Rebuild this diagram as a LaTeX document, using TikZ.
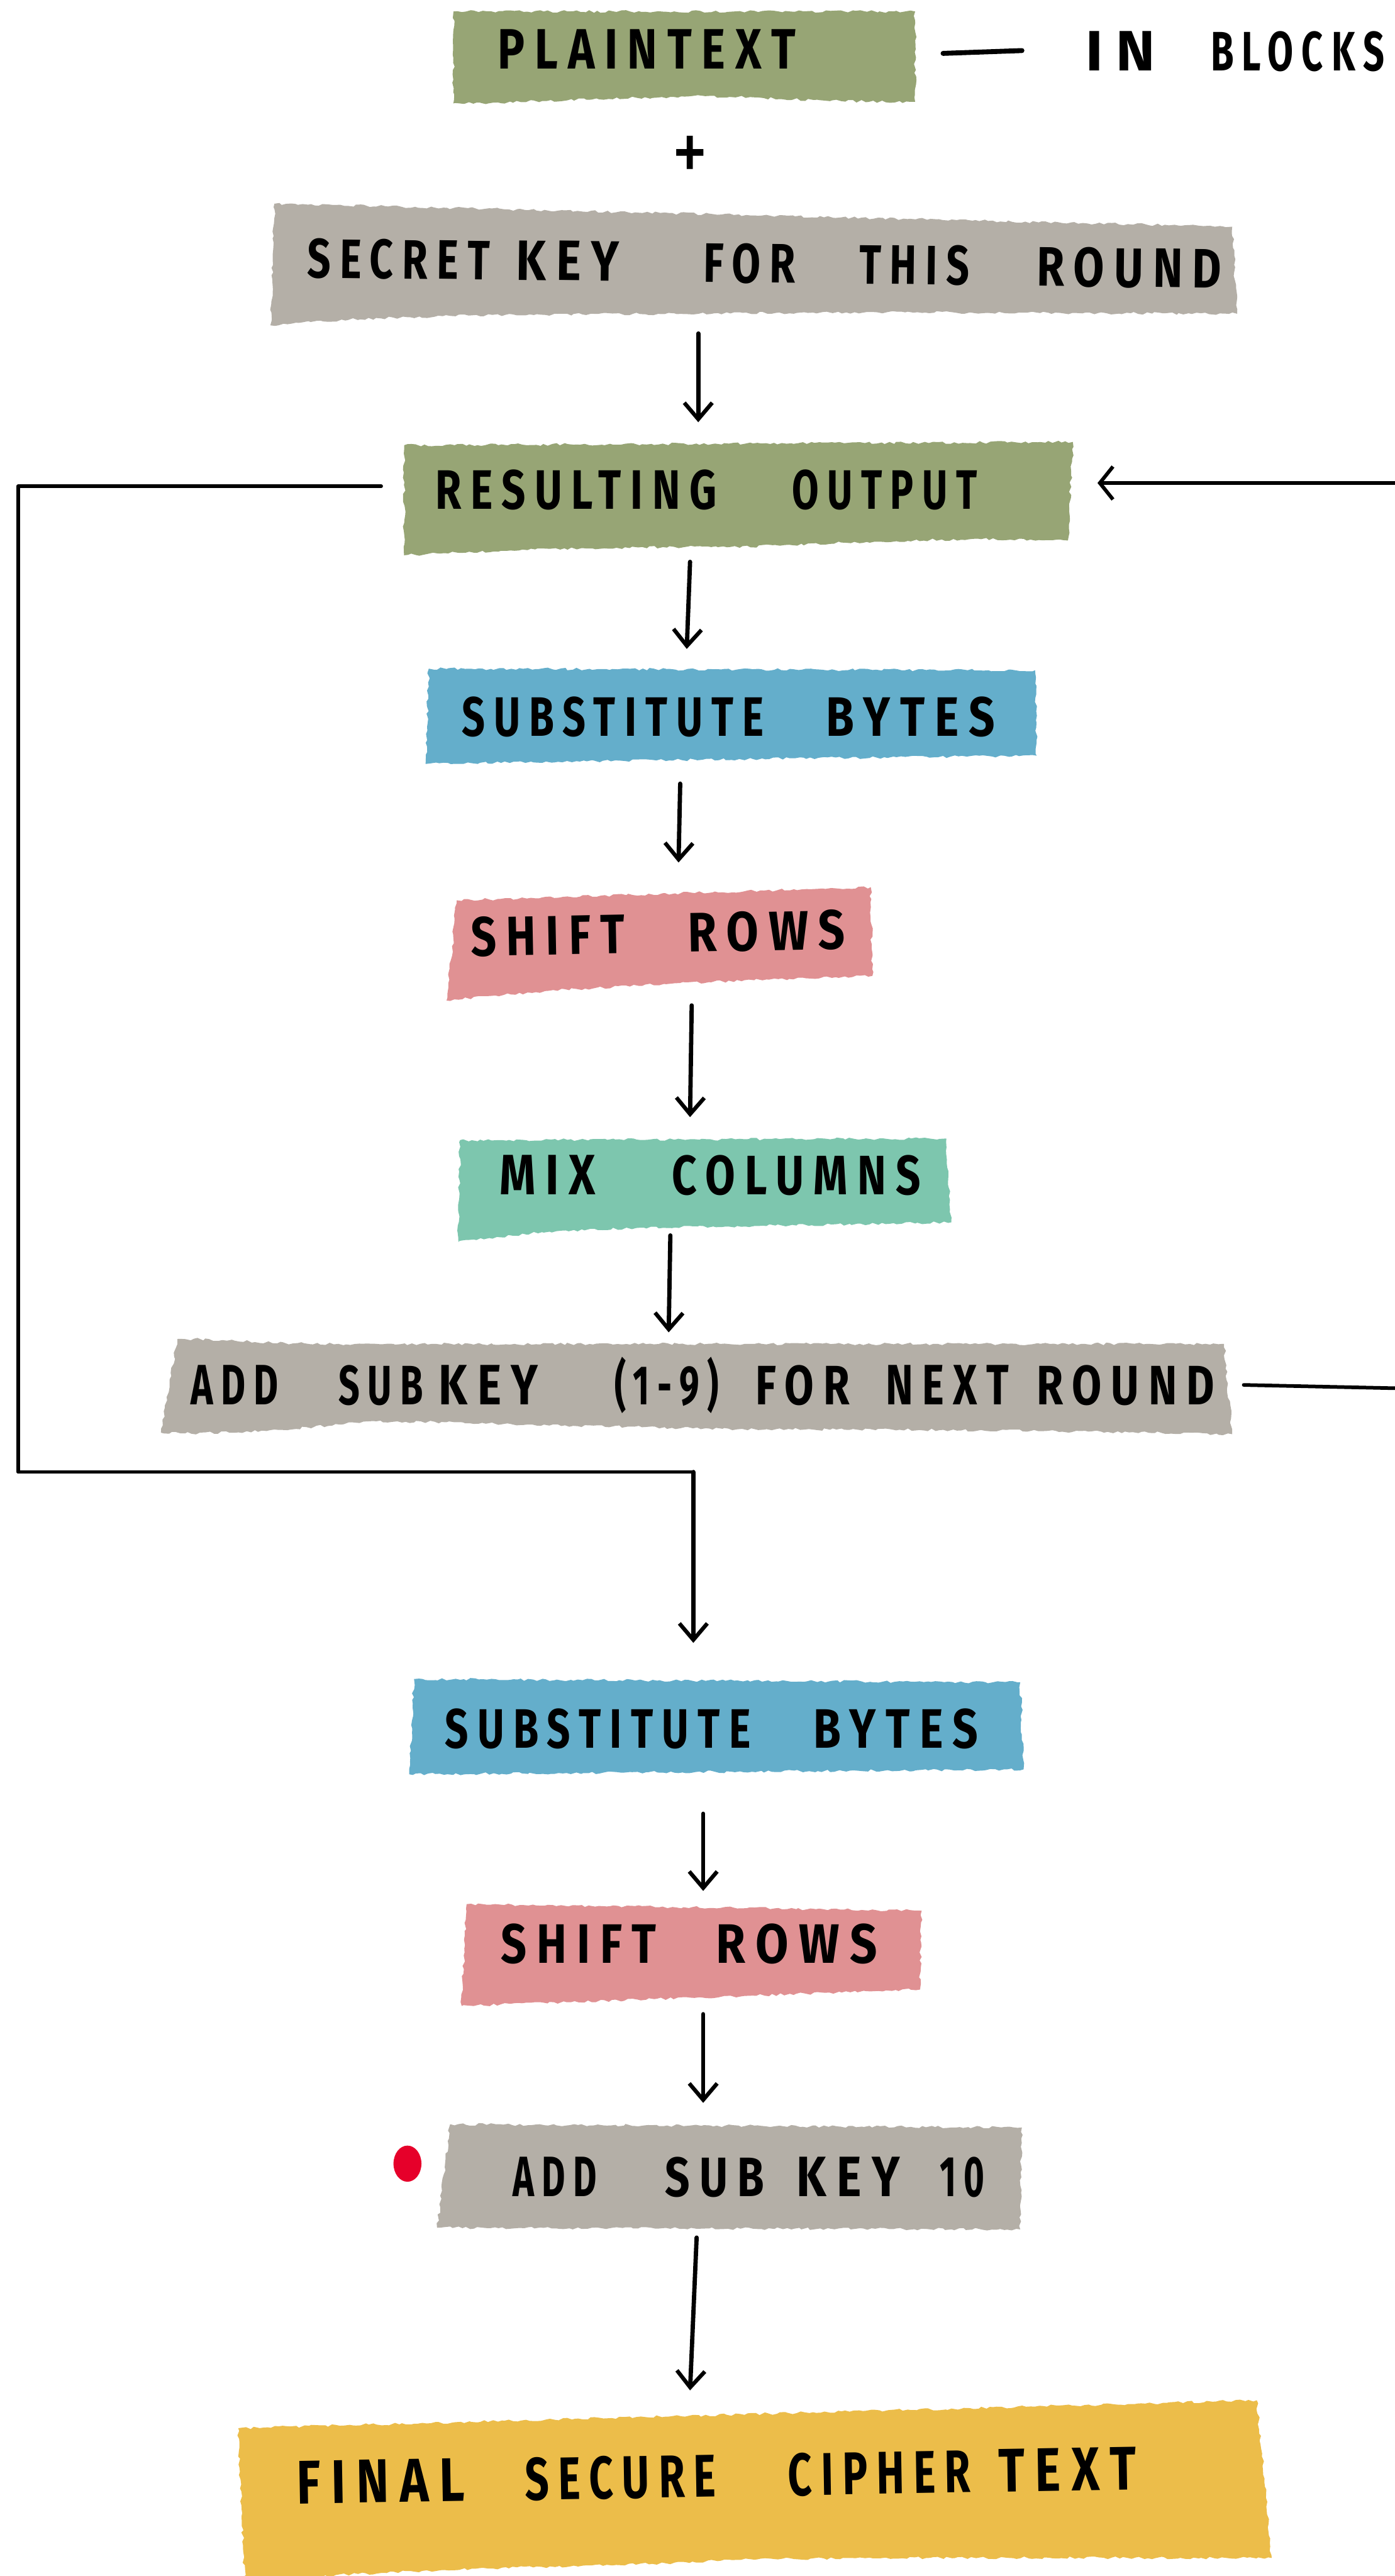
\documentclass[tikz,border=0pt]{standalone}
\usepackage{fontspec}
\usetikzlibrary{arrows.meta,decorations.pathmorphing}
\newfontfamily\hand[LetterSpace=22]{Fira Sans}
\newlength\handht
\setlength\handht{24pt}
% one hand-lettered word, squeezed to a given width (and height)
\newcommand\hw[2]{\resizebox{#1pt}{\handht}{\hand\bfseries #2\kern-0.2em}}
\newcommand\hwh[3]{\resizebox{#1pt}{#2pt}{\hand\bfseries #3\kern-0.2em}}
\newcommand\hgap[1]{\hspace*{#1pt}}

\definecolor{sage}{HTML}{97A575}
\definecolor{stone}{HTML}{B4AFA7}
\definecolor{sky}{HTML}{64AECB}
\definecolor{rose}{HTML}{E09193}
\definecolor{mint}{HTML}{7DC6AE}
\definecolor{mustard}{HTML}{ECBD4A}
\definecolor{dotred}{HTML}{E6002A}

\tikzset{
  brush/.style={decorate, decoration={random steps, segment length=2.5pt, amplitude=0.8pt}},
  hit/.style={rectangle, draw=none, inner sep=0pt, outer sep=0pt},
  txt/.style={inner sep=0pt, outer sep=0pt, anchor=base west},
  wire/.style={line width=2.2pt, line cap=round, line join=round},
  arr/.style={line width=2.6pt, line cap=round, -{Straight Barb[length=10pt,width=17pt,line width=2.4pt]}},
  larr/.style={line width=2.2pt, line cap=round, -{Straight Barb[length=8pt,width=20pt,line width=2.2pt]}}
}

\begin{document}
\begin{tikzpicture}[x=1pt,y=-1pt]
\pgfmathsetseed{7}
\useasboundingbox (0,0) rectangle (849,1568);

% ---------- painted boxes ----------
\fill[sage, brush] (276,7) -- (557,7) -- (557,62) .. controls (480,62) and (440,57) .. (410,59)
   .. controls (360,60) and (300,63) .. (276,63) -- cycle;
\fill[stone, brush] (167,124) -- (750,138) -- (753,191) -- (540,190)
   .. controls (350,192) and (250,190) .. (165,198) -- cycle;
\fill[sage, brush] (246,271) -- (653,269) -- (650,329) .. controls (560,326) and (480,333) .. (433,333)
   .. controls (350,333) and (280,336) .. (246,338) -- cycle;
\fill[sky, brush] (261,407) -- (630,408) -- (631,460) -- (450,462) -- (259,465) -- cycle;
\fill[rose, brush] (278,548) -- (530,540) -- (531,594) .. controls (450,597) and (350,600) .. (272,609) -- cycle;
\fill[mint, brush] (280,694) -- (576,693) -- (579,744) .. controls (500,746) and (400,746) .. (330,750) -- (279,756) -- cycle;
\fill[stone, brush] (108,815) .. controls (140,815) and (160,818) .. (206,818) -- (745,818) -- (750,873)
   .. controls (600,870) and (500,870) .. (449,870) .. controls (300,867) and (240,864) .. (217,866)
   .. controls (160,872) and (120,873) .. (98,872) -- cycle;
\fill[sky, brush] (252,1022) -- (621,1024) -- (623,1077) -- (249,1080) -- cycle;
\fill[rose, brush] (284,1159) -- (561,1163) -- (560,1211) -- (281,1221) -- cycle;
\fill[stone, brush] (274,1293) -- (622,1295) -- (621,1357) -- (266,1356) -- cycle;
\fill[mustard, brush] (145,1478) -- (765,1461) -- (774,1557) .. controls (600,1557) and (450,1556) .. (420,1560)
   .. controls (300,1563) and (200,1566) .. (149,1572) -- cycle;

\fill[dotred] (248,1317) ellipse [x radius=8.5pt, y radius=11pt];

% ---------- box extents used by the connectors ----------
\node[hit, minimum width=281pt, minimum height=54pt] (bPlain)  at (415.5,35) {};
\node[hit, minimum width=588pt, minimum height=73pt] (bSecret) at (459,160.5) {};
\node[hit, minimum width=407pt, minimum height=67pt] (bResult) at (449.5,303.5) {};
\node[hit, minimum width=372pt, minimum height=57pt] (bSubA)   at (445,435.5) {};
\node[hit, minimum width=259pt, minimum height=69pt] (bShiftA) at (401.5,574.5) {};
\node[hit, minimum width=300pt, minimum height=62pt] (bMix)    at (429,724) {};
\node[hit, minimum width=653pt, minimum height=58pt] (bAddA)   at (423.5,844) {};
\node[hit, minimum width=374pt, minimum height=58pt] (bSubB)   at (436,1051) {};
\node[hit, minimum width=280pt, minimum height=62pt] (bShiftB) at (421,1190) {};
\node[hit, minimum width=356pt, minimum height=64pt] (bAddB)   at (444,1325) {};
\node[hit, minimum width=629pt, minimum height=107pt] (bFinal) at (459.5,1514.5) {};

% ---------- lettering ----------
\node[txt] (tPlain) at (303,42) {\hw{176}{PLAINTEXT}};
\node[txt] (tBlocks) at (661,43) {\hw{35}{IN}\hgap{41}\hw{101}{BLOCKS}};
\node[inner sep=0pt] (plus) at (420,97) {\resizebox{22pt}{28pt}{\hand +}};
\node[txt, rotate=-0.65] (tSecret) at (187,169)
  {\hw{106}{SECRET}\hgap{21}\hw{57}{KEY}\hgap{57}\hw{51}{FOR}\hgap{44}\hw{62}{THIS}\hgap{46}\hw{107}{ROUND}};
\node[txt] (tResult) at (265,310) {\hw{166}{RESULTING}\hgap{51}\hw{108}{OUTPUT}};
\node[txt] (tSubA) at (281,448) {\hw{179}{SUBSTITUTE}\hgap{43}\hw{97}{BYTES}};
\node[txt, rotate=1.1] (tShiftA) at (287,582) {\hw{88}{SHIFT}\hgap{44}\hw{90}{ROWS}};
\node[txt] (tMix) at (304,727) {\hw{53}{MIX}\hgap{52}\hw{146}{COLUMNS}};
\node[txt] (tAddA) at (116,855)
  {\hw{49}{ADD}\hgap{41}\hw{47}{SUB}\hgap{14}\hw{55}{KEY}\hgap{52}\hwh{59}{29}{(1-9)}\hgap{27}\hw{52}{FOR}\hgap{27}\hw{70}{NEXT}\hgap{22}\hw{103}{ROUND}};
\node[txt] (tSubB) at (271,1064) {\hw{181}{SUBSTITUTE}\hgap{43}\hw{95}{BYTES}};
\node[txt] (tShiftB) at (305,1195) {\hw{89}{SHIFT}\hgap{42}\hw{92}{ROWS}};
\node[txt] (tAddB) at (312,1337) {\hw{47}{ADD}\hgap{46}\hw{55}{SUB}\hgap{25}\hw{57}{KEY}\hgap{30}\hw{23}{10}};
\node[txt, rotate=0.96] (tFinal) at (181,1524)
  {\hwh{96}{26}{FINAL}\hgap{43}\hwh{111}{26}{SECURE}\hgap{49}\hwh{106}{26}{CIPHER}\hgap{22}\hwh{78}{26}{TEXT}};

% ---------- connectors ----------
\draw[line width=3pt, line cap=round] ([xshift=18pt,yshift=2.5pt]bPlain.east) -- ([xshift=-39pt,yshift=0.5pt]tBlocks.west);

\draw[arr] ([xshift=-34pt,yshift=-6pt]bSecret.south) -- ([xshift=-24.5pt,yshift=13pt]bResult.north);
\draw[arr] ([xshift=-29.5pt,yshift=-5pt]bResult.south) -- ([xshift=-27pt,yshift=12pt]bSubA.north);
\draw[arr] ([xshift=-31pt,yshift=-13pt]bSubA.south) -- ([xshift=11.5pt,yshift=15pt]bShiftA.north);
\draw[arr] ([xshift=19.5pt,yshift=-3pt]bShiftA.south) -- ([xshift=-9pt,yshift=13pt]bMix.north);
\draw[arr] ([xshift=-21pt,yshift=3pt]bMix.south) -- ([xshift=-16.5pt,yshift=4pt]bAddA.north);

% feedback into the next round
\coordinate (loopC) at (11,896);
\coordinate (loopJ) at (422,896);
\draw[wire] ([xshift=-14pt,yshift=7.5pt]bResult.west) -| (loopC) -- (loopJ);
\draw[arr] (loopJ) -- ([xshift=-14pt,yshift=22pt]bSubB.north);

\coordinate (edgeA) at (849,294);
\coordinate (edgeB) at (849,845);
\draw[larr] (edgeA) -- ([xshift=15pt,yshift=9.5pt]bResult.east);
\draw[wire] ([xshift=7pt,yshift=1pt]bAddA.east) -- (edgeB);

\draw[arr] ([xshift=-8pt,yshift=-24pt]bSubB.south) -- ([xshift=7pt,yshift=8pt]bShiftB.north);
\draw[arr] ([xshift=7pt,yshift=-5pt]bShiftB.south) -- ([xshift=-16pt,yshift=13pt]bAddB.north);
\draw[arr] ([xshift=-20pt,yshift=-5pt]bAddB.south) -- ([xshift=-39.5pt,yshift=6pt]bFinal.north);
\end{tikzpicture}
\end{document}
